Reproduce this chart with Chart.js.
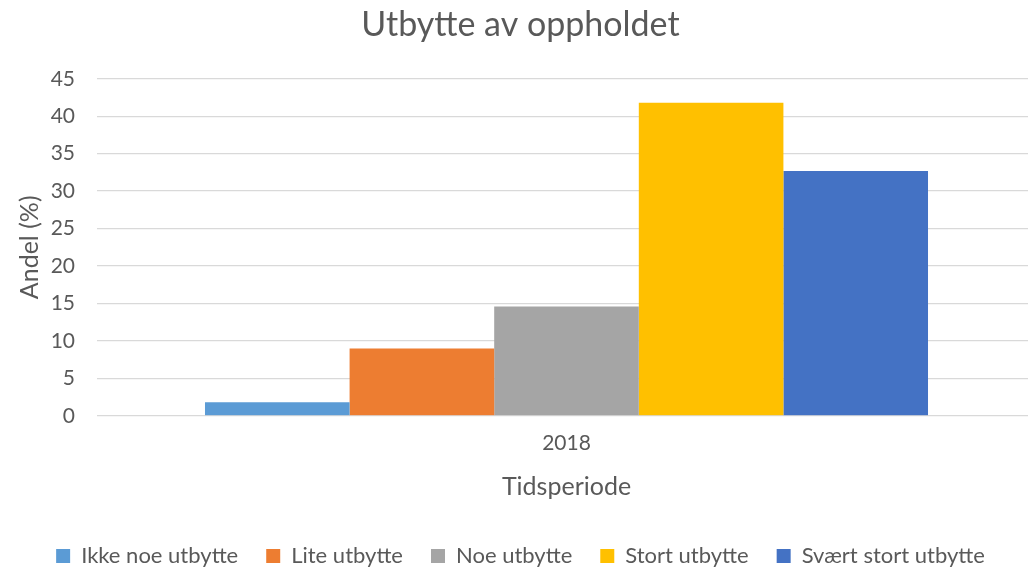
<!DOCTYPE html>
<html>
<head>
<meta charset="utf-8">
<script src="https://cdn.jsdelivr.net/npm/chart.js@4/dist/chart.umd.min.js"></script>
<style>
  html, body { margin: 0; padding: 0; background: #fff; overflow: hidden; }
  #wrap { width: 1040px; height: 570px; position: relative; }
</style>
</head>
<body>
<div id="wrap"><canvas id="utbytte"></canvas></div>
<script>
const periods = ['2018'];
const seriesNames = ['Ikke noe utbytte', 'Lite utbytte', 'Noe utbytte', 'Stort utbytte', 'Svært stort utbytte'];
const seriesValues = [1.8, 9.0, 14.6, 41.8, 32.7];
const seriesColors = ['#5b9bd5', '#ed7d31', '#a5a5a5', '#ffc000', '#4472c4'];

const font = 'Lato, "Open Sans", sans-serif';
const textColor = '#595959';

const datasets = seriesNames.map((name, i) => ({
    label: name,
    data: [seriesValues[i]],
    backgroundColor: seriesColors[i],
    borderWidth: 0,
    barPercentage: 1.0,
    categoryPercentage: 0.77
}));

const ctx = document.getElementById('utbytte').getContext('2d');
new Chart(ctx, {
    type: 'bar',
    data: { labels: periods, datasets: datasets },
    options: {
        responsive: true,
        maintainAspectRatio: false,
        animation: false,
        layout: { padding: { left: 5, right: 4, top: 0, bottom: -7 } },
        plugins: {
            title: {
                display: true,
                text: 'Utbytte av oppholdet',
                color: textColor,
                font: { family: font, size: 34, weight: 'normal' },
                padding: { top: 5, bottom: 33 }
            },
            legend: {
                position: 'bottom',
                labels: {
                    color: textColor,
                    font: { family: font, size: 22 },
                    boxWidth: 14,
                    boxHeight: 14,
                    padding: 28
                }
            },
            tooltip: { enabled: false }
        },
        scales: {
            x: {
                grid: { display: false, drawTicks: false },
                border: { display: false },
                ticks: { color: textColor, font: { family: font, size: 21 }, padding: 15 },
                title: {
                    display: true,
                    text: 'Tidsperiode',
                    color: textColor,
                    font: { family: font, size: 25 },
                    padding: { top: 1, bottom: 15 }
                }
            },
            y: {
                min: 0,
                max: 45,
                border: { display: false },
                grid: { color: '#d9d9d9', lineWidth: 1.3, drawTicks: false },
                ticks: { stepSize: 5, color: textColor, font: { family: font, size: 21 }, padding: 22 },
                title: {
                    display: true,
                    text: 'Andel (%)',
                    color: textColor,
                    font: { family: font, size: 25 },
                    padding: { top: 10, bottom: 6 }
                },
                // keep the value axis at a fixed width so the plot starts at x = 97
                afterFit(scale) { scale.width = 92; }
            }
        }
    }
});
</script>
</body>
</html>
